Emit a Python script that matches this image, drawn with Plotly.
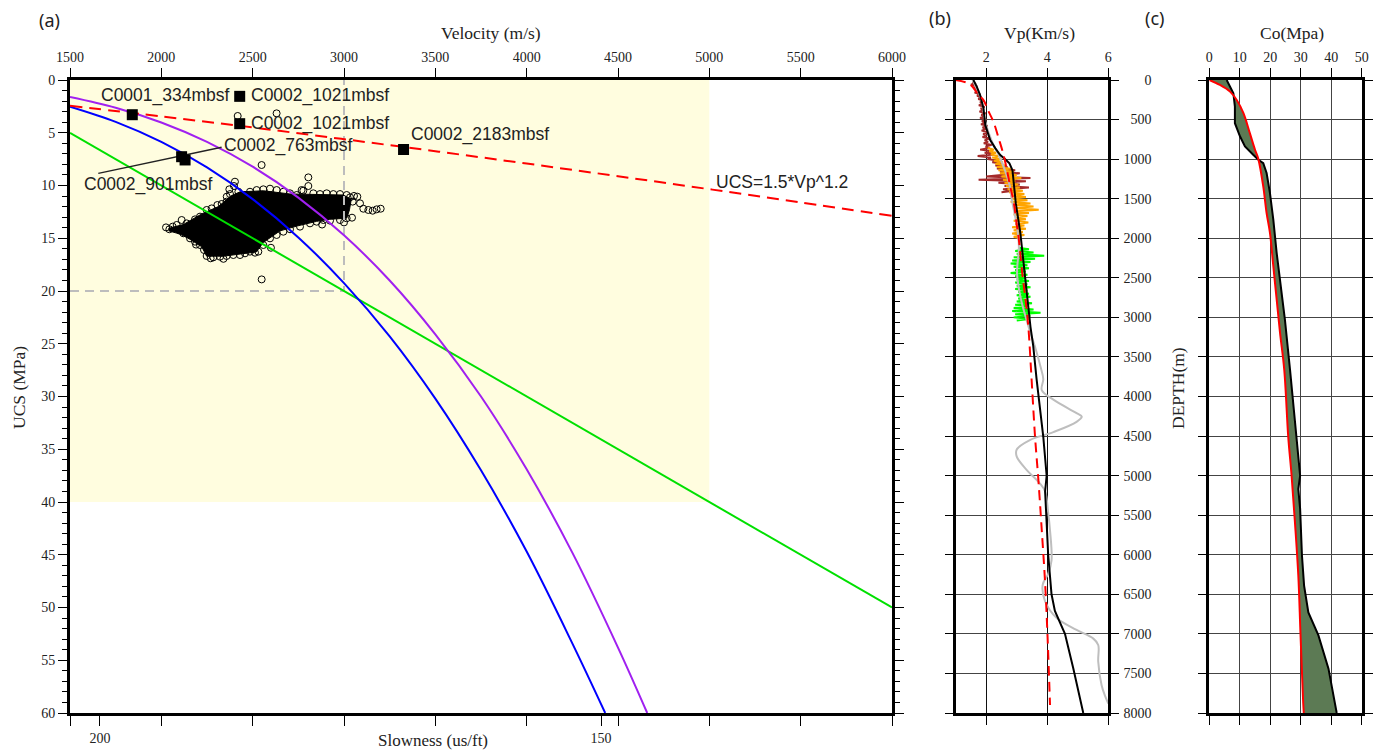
import plotly.graph_objects as go

W, H = 1381, 751

# ================= Panel (a) data =================
vel_ticks = [1500, 2000, 2500, 3000, 3500, 4000, 4500, 5000, 5500, 6000]
slow_tick_vel = [1500, 1664, 2000, 2500, 3000, 3500, 4000, 4407, 4500, 5000, 5500, 6000]
slow_tick_text = ["", "200", "", "", "", "", "", "150", "", "", "", ""]

# UCS = 1.5*Vp^1.2 (red dashed)
red_vel = [1500, 2000, 2500, 3000, 3500, 4000, 4500, 5000, 5500, 6000]
red_ucs = [2.44, 3.45, 4.50, 5.61, 6.75, 7.92, 9.12, 10.35, 11.60, 12.88]
# blue curve
blue_vel = [1500, 1750, 2000, 2250, 2500, 2750, 3000, 3250, 3500, 3750, 4000, 4250, 4430]
blue_ucs = [2.53, 3.97, 5.87, 8.29, 11.29, 14.92, 19.25, 24.3, 30.2, 37.0, 44.7, 53.4, 60.0]
# purple curve
purple_vel = [1500, 1750, 2000, 2250, 2500, 2750, 3000, 3250, 3500, 3750, 4000, 4250, 4500, 4660]
purple_ucs = [1.61, 2.63, 4.03, 5.87, 8.22, 11.15, 14.72, 19.0, 24.1, 30.0, 36.9, 44.8, 53.8, 60.0]
# green line
green_vel = [1500, 6000]
green_ucs = [5.0, 50.0]

# reference box (grey dashed)
box_vel = [1500, 3000, 3000]
box_ucs = [20, 20, 0]
# highlighted region
region_vel = [1500, 5000]
region_ucs = [0, 40]

# dense core of the measured cloud
core_vel = [2040, 2120, 2221, 2312, 2380, 2431, 2558, 2704, 2850, 2996, 3040, 3030, 3015,
            2923, 2850, 2741, 2650, 2558, 2520, 2431, 2339, 2248, 2221, 2157, 2102, 2040]
core_ucs = [14.06, 13.7, 12.7, 12.0, 11.0, 10.6, 10.5, 10.8, 10.85, 10.9, 11.3, 12.3, 13.1,
            13.2, 13.4, 13.85, 14.3, 15.4, 16.3, 16.5, 16.7, 16.7, 15.8, 15.1, 14.6, 14.3]
# individual measurements (open circles)
pts_vel = [2025.6, 2043.8, 2062.1, 2084.0, 2102.2, 2120.5, 2138.7, 2111.3,
           2184.3, 2211.7, 2248.2, 2275.6, 2306.6, 2330.3, 2357.7, 2375.9, 2372.3, 2397.8, 2421.6, 2448.9,
           2485.4, 2521.9, 2558.4, 2594.9, 2631.4, 2667.9, 2704.4, 2740.9, 2777.4, 2804.8, 2804.8,
           2832.1, 2868.6, 2905.1, 2941.6, 2978.1, 3014.6,
           3032.9, 3054.8, 3073.0, 3047.5, 3087.6, 3105.9, 3133.2, 3157.0, 3178.9, 3200.8, 3043.8, 3014.6, 2978.1,
           2923.4, 2886.9, 2850.4, 2813.9, 2759.1, 2704.4, 2667.9, 2631.4, 2594.9, 2558.4, 2531.0, 2512.8,
           2485.4, 2458.1, 2430.7, 2394.2, 2357.7, 2321.2, 2284.7, 2248.2, 2233.6, 2211.7, 2184.3, 2157.0,
           2549.3, 2631.0, 2418.0, 2549.0, 2403.0, 2358.0, 2768.0, 2480.0, 2600.0, 2700.0,
           2270.0, 2340.0, 2190.0, 2600.0, 2880.0, 3000.0]
pts_ucs = [13.97, 14.15, 13.90, 13.74, 14.28, 14.53, 13.59, 13.27,
           13.21, 12.95, 12.32, 12.17, 11.85, 11.75, 11.53, 10.81, 10.36, 10.05, 10.59, 10.90,
           10.59, 10.43, 10.36, 10.30, 10.43, 10.59, 10.74, 10.90, 10.49, 10.05, 9.23,
           10.74, 10.81, 10.74, 10.81, 10.81, 10.90,
           11.12, 10.99, 11.06, 11.53, 11.69, 12.20, 12.32, 12.39, 12.26, 12.20, 13.05, 13.11, 13.27,
           13.33, 13.27, 13.43, 13.59, 13.90, 14.15, 14.38, 14.69, 15.01, 15.64, 16.27, 16.37,
           16.27, 16.43, 16.59, 16.59, 16.68, 16.75, 16.81, 16.68, 16.11, 15.64, 15.32, 15.01,
           18.90, 3.16, 3.41, 8.06, 9.64, 11.06, 10.43, 12.9, 12.2, 12.6,
           16.9, 16.95, 15.6, 15.9, 13.7, 13.5]

# labelled samples (black squares)
sq_vel = [1841, 2429, 2429, 3326, 2111, 2130]
sq_ucs = [3.29, 1.55, 4.14, 6.59, 7.27, 7.58]
lab_text = ["C0001_334mbsf", "C0002_1021mbsf", "C0002_1021mbsf", "C0002_2183mbsf",
            "C0002_763mbsf", "C0002_901mbsf", "UCS=1.5*Vp^1.2"]
lab_vel = [1657, 2480, 2480, 3355, 2334, 1568, 5028]
lab_ucs = [1.49, 1.49, 4.10, 5.21, 6.23, 9.89, 9.64]
leader_vel = [1655, 2330]
leader_ucs = [8.85, 6.38]

# ================= Panel (b) data =================
vp_ticks = [2, 4, 6]
depth_ticks = list(range(0, 8001, 500))

vpred_depth = [0, 55, 190, 255, 400, 530, 740, 950, 1160, 1370, 1540, 1800, 2020, 2440, 2780,
               3120, 3740, 4510, 5060, 5690, 6360, 7040, 7900]
vpred_vp = [1.0, 1.47, 1.75, 1.91, 2.08, 2.24, 2.41, 2.57, 2.69, 2.80, 2.90, 2.99, 3.07, 3.18, 3.29,
            3.38, 3.48, 3.60, 3.71, 3.82, 3.93, 4.01, 4.09]

vpblk_depth = [0, 84, 190, 358, 569, 759, 864, 948, 1012, 1054, 1140, 1330, 1560, 1940, 2360, 2700,
               3120, 3360, 3780, 4510, 5000, 5200, 5500, 6000, 6500, 6710, 7000, 7430, 8000]
vpblk_vp = [1.58, 1.69, 1.80, 1.91, 1.97, 2.13, 2.30, 2.46, 2.65, 2.76, 2.86, 2.91, 2.97, 3.12, 3.23,
            3.34, 3.45, 3.54, 3.65, 3.87, 3.98, 3.93, 3.97, 4.03, 4.14, 4.25, 4.58, 4.85, 5.18]

vpgry_depth = [0, 100, 274, 527, 780, 948, 1160, 1370, 1475, 1855, 2108, 2444, 2740, 2993, 3160, 3400,
               3625, 3780, 3920, 4040, 4210, 4255, 4320, 4450, 4550, 4670, 4760, 4930, 5100, 5200,
               5470, 5690, 6070, 6240, 6380, 6590, 6800, 6950, 7060, 7140, 7350, 7650, 7780, 7880]
vpgry_vp = [1.55, 1.68, 1.86, 1.97, 2.19, 2.41, 2.63, 2.79, 2.82, 3.01, 3.07, 3.01, 3.12, 3.29, 3.42, 3.62,
            3.78, 3.87, 3.82, 4.20, 4.96, 5.13, 4.96, 4.20, 3.43, 3.00, 3.00, 3.33, 3.76, 3.93,
            4.03, 4.09, 4.14, 4.03, 3.85, 3.93, 4.31, 4.96, 5.51, 5.67, 5.67, 5.78, 5.89, 6.00]

# well logs (sampled every 20 m)
brown_top, brown_step = 20, 20
brown_vp = [1.55, 1.62, 1.50, 1.70, 1.58, 1.66, 1.75, 1.62, 1.80, 1.70, 1.85, 1.74, 1.92, 1.80, 1.88,
            1.76, 1.95, 1.82, 1.90, 1.78, 1.98, 1.84, 1.93, 1.80, 2.00, 1.86, 1.96, 1.83, 2.05, 1.88,
            1.98, 1.85, 2.08, 1.90, 2.02, 1.88, 2.12, 1.95, 2.06, 1.92, 2.18, 1.98, 2.10, 1.80, 2.20,
            1.95, 2.25, 1.72, 2.15, 2.05, 2.40, 2.20, 2.55, 2.30, 2.70, 2.35, 2.95, 2.45, 3.10, 2.50,
            2.00, 3.45, 1.75, 3.30, 2.40, 3.10, 2.60, 3.40, 2.55, 2.90, 2.50]
orange_top, orange_step = 860, 20
orange_vp = [2.05, 2.25, 2.10, 2.32, 2.15, 2.40, 2.20, 2.50, 2.25, 2.55, 2.30, 2.62, 2.35, 2.80, 2.40,
             2.90, 2.45, 3.00, 2.50, 3.15, 2.55, 2.95, 2.60, 3.05, 2.65, 3.10, 2.70, 3.20, 2.75, 3.25,
             2.80, 3.30, 2.85, 3.35, 2.80, 3.45, 2.85, 3.55, 2.90, 3.72, 2.95, 3.40, 2.90, 3.35, 2.95,
             3.30, 2.90, 3.38, 2.95, 3.25, 2.85, 3.30, 2.90, 3.20, 2.85, 3.25, 2.90, 3.10]
lime_top, lime_step = 2120, 20
lime_vp = [3.05, 3.40, 2.95, 3.55, 3.00, 3.90, 2.90, 3.60, 2.85, 3.45, 2.80, 3.35, 2.90, 3.40, 2.95,
           3.30, 2.80, 3.35, 2.95, 3.30, 3.00, 3.40, 2.95, 3.35, 3.00, 3.45, 2.95, 3.35, 3.05, 3.40,
           3.00, 3.45, 3.05, 3.35, 3.00, 3.50, 2.95, 3.40, 2.90, 3.55, 2.85, 3.78, 2.95, 3.45, 2.90,
           3.40, 3.00]

# ================= Panel (c) data =================
co_ticks = [0, 10, 20, 30, 40, 50]
cored_depth = [0, 63, 147, 252, 420, 672, 882, 1000, 1345, 1681, 1933, 2353, 2773, 3193, 3667,
               4510, 5000, 5590, 6260, 6980, 7870, 8000]
cored_co = [0, 3.5, 6.8, 9.0, 11.2, 13.3, 15.0, 16.1, 17.7, 18.8, 19.9, 21.0, 22.1, 23.2, 24.6,
            25.9, 27.0, 28.1, 29.2, 29.9, 30.8, 31.0]
coblk_depth = [0, 168, 336, 546, 714, 840, 945, 1008, 1050, 1176, 1429, 1765, 2185, 2689, 3025,
               3667, 4300, 5000, 5170, 5420, 6010, 6390, 6730, 7020, 7440, 8000]
coblk_co = [5.7, 7.9, 8.4, 8.4, 10.1, 11.7, 14.4, 16.1, 17.7, 18.8, 19.9, 21.0, 22.1, 23.7, 24.8,
            26.5, 28.1, 29.8, 29.2, 29.8, 30.4, 31.1, 32.5, 35.8, 39.1, 41.8]

# ================= layout geometry =================
def fx(p):
    return p / W

def fy(p):
    return 1 - p / H

ydom = [fy(713), fy(80)]
adom = [fx(70), fx(892)]
bdom = [fx(955.7), fx(1108.3)]
cdom = [fx(1209.3), fx(1361.7)]

SERIF = "Liberation Serif"
SANS = "Liberation Sans"
tickfont = dict(family=SERIF, size=14, color="#222")

fig = go.Figure()

# ---- panel (a) traces ----
fig.add_trace(go.Scatter(x=core_vel, y=core_ucs, mode="lines", fill="toself",
                         fillcolor="black", line=dict(color="black", width=1),
                         xaxis="x", yaxis="y"))
fig.add_trace(go.Scatter(x=pts_vel, y=pts_ucs, mode="markers",
                         marker=dict(symbol="circle-open", size=7, color="black", line=dict(width=1)),
                         xaxis="x", yaxis="y"))
fig.add_trace(go.Scatter(x=box_vel, y=box_ucs, mode="lines",
                         line=dict(color="#BDBDBD", width=2, dash="9px,6px"),
                         xaxis="x", yaxis="y", hoverinfo="skip"))
fig.add_trace(go.Scatter(x=green_vel, y=green_ucs, mode="lines",
                         line=dict(color="#00E000", width=2), xaxis="x", yaxis="y"))
fig.add_trace(go.Scatter(x=blue_vel, y=blue_ucs, mode="lines", line_shape="spline",
                         line=dict(color="#0000FF", width=2), xaxis="x", yaxis="y"))
fig.add_trace(go.Scatter(x=purple_vel, y=purple_ucs, mode="lines", line_shape="spline",
                         line=dict(color="#A020F0", width=2), xaxis="x", yaxis="y"))
fig.add_trace(go.Scatter(x=red_vel, y=red_ucs, mode="lines", line_shape="spline",
                         line=dict(color="#FF0000", width=2, dash="12px,7px"), xaxis="x", yaxis="y"))
fig.add_trace(go.Scatter(x=leader_vel, y=leader_ucs, mode="lines",
                         line=dict(color="#222", width=1.5), xaxis="x", yaxis="y"))
fig.add_trace(go.Scatter(x=sq_vel, y=sq_ucs, mode="markers",
                         marker=dict(symbol="square", size=11, color="black"),
                         xaxis="x", yaxis="y"))
# invisible trace on the top velocity axis to activate it
fig.add_trace(go.Scatter(x=[vel_ticks[0], vel_ticks[-1]], y=[0, 0], mode="lines",
                         line=dict(width=0), xaxis="x2", yaxis="y", hoverinfo="skip"))

# ---- panel (b) traces ----
def log_depths(top, step, n):
    return [top + step * i for i in range(n)]

fig.add_trace(go.Scatter(x=brown_vp, y=log_depths(brown_top, brown_step, len(brown_vp)), mode="lines",
                         line=dict(color="#A52A2A", width=2), xaxis="x3", yaxis="y3"))
fig.add_trace(go.Scatter(x=orange_vp, y=log_depths(orange_top, orange_step, len(orange_vp)), mode="lines",
                         line=dict(color="#FFA500", width=2), xaxis="x3", yaxis="y3"))
fig.add_trace(go.Scatter(x=lime_vp, y=log_depths(lime_top, lime_step, len(lime_vp)), mode="lines",
                         line=dict(color="#00FF00", width=2), xaxis="x3", yaxis="y3"))
fig.add_trace(go.Scatter(x=vpgry_vp, y=vpgry_depth, mode="lines", line_shape="spline",
                         line=dict(color="#BEBEBE", width=2), xaxis="x3", yaxis="y3"))
fig.add_trace(go.Scatter(x=vpblk_vp, y=vpblk_depth, mode="lines",
                         line=dict(color="black", width=2), xaxis="x3", yaxis="y3"))
fig.add_trace(go.Scatter(x=vpred_vp, y=vpred_depth, mode="lines", line_shape="spline",
                         line=dict(color="#FF0000", width=2, dash="10px,6px"), xaxis="x3", yaxis="y3"))

# ---- panel (c) traces ----
fig.add_trace(go.Scatter(x=cored_co, y=cored_depth, mode="lines", line_shape="spline",
                         line=dict(color="rgba(0,0,0,0)", width=0), xaxis="x4", yaxis="y4"))
fig.add_trace(go.Scatter(x=coblk_co, y=coblk_depth, mode="lines", fill="tonextx",
                         fillcolor="rgb(92,122,84)", line=dict(color="black", width=2),
                         xaxis="x4", yaxis="y4"))
fig.add_trace(go.Scatter(x=cored_co, y=cored_depth, mode="lines", line_shape="spline",
                         line=dict(color="#FF0000", width=2), xaxis="x4", yaxis="y4"))

# ---- shapes ----
fig.add_shape(type="rect", xref="x", yref="y", x0=region_vel[0], x1=region_vel[1],
              y0=region_ucs[0], y1=region_ucs[1], fillcolor="#FFFDDF", line=dict(width=0),
              layer="below")

# ---- annotations ----
ann = []
for t, xv, yv in zip(lab_text, lab_vel, lab_ucs):
    ann.append(dict(text=t, x=xv, y=yv, xref="x", yref="y", xanchor="left", yanchor="middle",
                    showarrow=False, font=dict(family=SANS, size=17.5, color="#222")))

def paper_text(t, x, y, size, family, angle=0):
    return dict(text=t, x=fx(x), y=fy(y), xref="paper", yref="paper", xanchor="center",
                yanchor="middle", showarrow=False, textangle=angle,
                font=dict(family=family, size=size, color="#222"))

ann += [
    paper_text("(a)", 49, 20, 18, "Noto Sans"),
    paper_text("(b)", 940, 18, 18, "Noto Sans"),
    paper_text("(c)", 1154, 18, 18, "Noto Sans"),
    paper_text("Velocity (m/s)", 491, 33, 17.5, SERIF),
    paper_text("Slowness (us/ft)", 433, 740, 17, SERIF),
    paper_text("UCS (MPa)", 19, 388, 17.5, SERIF, -90),
    paper_text("Vp(Km/s)", 1039, 33, 17.5, SERIF),
    paper_text("Co(Mpa)", 1292, 33, 17.5, SERIF),
    paper_text("DEPTH(m)", 1178, 388, 17.5, SERIF, -90),
]

common = dict(showline=True, linewidth=3, linecolor="black", zeroline=False, automargin=False,
              ticks="outside", tickcolor="black", tickwidth=1, tickfont=tickfont)

fig.update_layout(
    width=W, height=H, margin=dict(l=0, r=0, t=0, b=0, pad=0, autoexpand=False),
    paper_bgcolor="white", plot_bgcolor="white", showlegend=False,
    annotations=ann,
    xaxis=dict(domain=adom, anchor="y", range=[vel_ticks[0], vel_ticks[-1]], tickmode="array",
               tickvals=slow_tick_vel, ticktext=slow_tick_text, ticklen=10, showgrid=False,
               mirror=False, ticklabelstandoff=0, **common),
    xaxis2=dict(domain=adom, anchor="y", overlaying="x", side="top",
                range=[vel_ticks[0], vel_ticks[-1]], tickmode="array", tickvals=vel_ticks,
                ticklen=9, showgrid=False, mirror=False, **common),
    yaxis=dict(domain=ydom, anchor="x", range=[60, 0], tick0=0, dtick=5, ticklen=9,
               showgrid=False, mirror="ticks",
               minor=dict(dtick=1, ticklen=5, ticks="outside", tickcolor="black", showgrid=False),
               **common),
    xaxis3=dict(domain=bdom, anchor="y3", side="top", range=[1, 6], tickmode="array",
                tickvals=vp_ticks, ticklen=9, mirror="ticks", showgrid=True,
                gridcolor="#111", gridwidth=1, **common),
    yaxis3=dict(domain=ydom, anchor="x3", range=[8000, 0], tickmode="array", tickvals=depth_ticks,
                ticklen=8, mirror="ticks", showticklabels=False, showgrid=True,
                gridcolor="#444", gridwidth=1.3, **common),
    xaxis4=dict(domain=cdom, anchor="y4", side="top", range=[0, 50], tickmode="array",
                tickvals=co_ticks, ticklen=9, mirror="ticks", showgrid=True,
                gridcolor="#444", gridwidth=1.2, **common),
    yaxis4=dict(domain=ydom, anchor="x4", range=[8000, 0], tickmode="array", tickvals=depth_ticks,
                ticklen=8, mirror="ticks", showticklabels=True, ticklabelstandoff=44,
                showgrid=True, gridcolor="#444", gridwidth=1.3, **common),
)

fig.write_html("out.html")
